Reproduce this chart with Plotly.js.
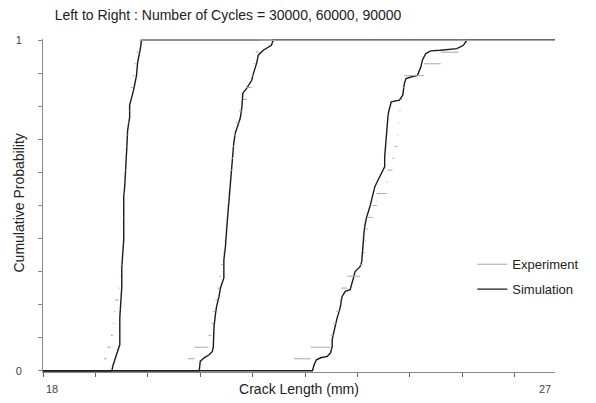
<!DOCTYPE html>
<html>
<head>
<meta charset="utf-8">
<script src="https://cdn.plot.ly/plotly-3.0.1.min.js"></script>
<style>html,body{margin:0;padding:0;background:#fff;}#chart{width:596px;height:403px;}</style>
</head>
<body>
<div id="chart"></div>
<script>
// ---- data ----
const chartTitle = 'Left to Right : Number of Cycles = 30000, 60000, 90000';
const xTitle = 'Crack Length (mm)';
const yTitle = 'Cumulative Probability';
const xEndLabels = ['18', '27'];
const xLimits = [18, 27];
const yTickVals = [0, 0.1, 0.2, 0.3, 0.4, 0.5, 0.6, 0.7, 0.8, 0.9, 1];
const yTickText = ['0', '', '', '', '', '', '', '', '', '', '1'];
const seriesNames = ['Experiment', 'Simulation'];
const cycles = [30000, 60000, 90000];

// experiment: sorted crack lengths (mm) and empirical probability levels
const expProb = [0.036, 0.071, 0.107, 0.143, 0.179, 0.214, 0.250, 0.286, 0.321, 0.357,
  0.393, 0.429, 0.464, 0.500, 0.536, 0.571, 0.607, 0.643, 0.679, 0.714,
  0.750, 0.786, 0.821, 0.857, 0.893, 0.929, 0.964, 1.000];
const exp30000 = [19.073, 19.125, 19.194, 19.229, 19.246, 19.263, 19.333, 19.350, 19.367, 19.385,
  19.393, 19.402, 19.410, 19.419, 19.428, 19.437, 19.445, 19.454, 19.462, 19.471,
  19.488, 19.506, 19.523, 19.540, 19.575, 19.610, 19.644, 19.696];
const exp60000 = [20.544, 20.665, 20.908, 20.960, 20.994, 21.029, 21.063, 21.098, 21.133, 21.167,
  21.185, 21.202, 21.219, 21.237, 21.254, 21.271, 21.288, 21.323, 21.340, 21.358,
  21.392, 21.444, 21.513, 21.583, 21.669, 21.704, 21.738, 21.808];
const exp90000 = [22.413, 22.708, 23.054, 23.106, 23.158, 23.210, 23.244, 23.348, 23.573, 23.625,
  23.660, 23.677, 23.712, 23.798, 23.867, 24.040, 24.058, 24.144, 24.179, 24.231,
  24.248, 24.265, 24.283, 24.317, 24.352, 24.698, 24.992, 25.304];

// simulation CDFs
const sim30000X = [18, 19.212, 19.229, 19.263, 19.298, 19.333, 19.350, 19.350, 19.367, 19.385, 19.385,
  19.402, 19.419, 19.419, 19.419, 19.437, 19.454, 19.471, 19.488, 19.523, 19.523, 19.592,
  19.644, 19.662, 19.713, 19.731, 27];
const sim30000P = [0, 0, 0.015, 0.033, 0.045, 0.063, 0.079, 0.160, 0.199, 0.254, 0.314,
  0.360, 0.396, 0.465, 0.526, 0.559, 0.601, 0.668, 0.728, 0.767, 0.804, 0.849,
  0.894, 0.931, 0.976, 1, 1];
const sim60000X = [18, 20.747, 20.764, 20.833, 20.920, 20.977, 20.994, 20.994, 21.006, 21.034, 21.051,
  21.093, 21.121, 21.179, 21.179, 21.207, 21.224, 21.237, 21.266, 21.294, 21.311, 21.323,
  21.340, 21.353, 21.380, 21.439, 21.467, 21.496, 21.513, 21.583, 21.669, 21.699, 21.756,
  21.785, 21.872, 22.015, 22.045, 27];
const sim60000P = [0, 0, 0.028, 0.039, 0.048, 0.058, 0.073, 0.104, 0.134, 0.175, 0.194,
  0.224, 0.251, 0.281, 0.335, 0.376, 0.406, 0.447, 0.508, 0.568, 0.607, 0.637,
  0.663, 0.689, 0.719, 0.749, 0.764, 0.798, 0.840, 0.855, 0.879, 0.900, 0.931,
  0.955, 0.970, 0.985, 1, 1];
const sim90000X = [18, 22.737, 22.765, 22.806, 22.881, 22.997, 23.054, 23.083, 23.083, 23.111, 23.140,
  23.170, 23.198, 23.227, 23.256, 23.313, 23.400, 23.429, 23.457, 23.486, 23.573, 23.603,
  23.613, 23.630, 23.642, 23.660, 23.689, 23.746, 23.786, 23.833, 23.890, 23.949, 24.006,
  24.006, 24.018, 24.035, 24.053, 24.063, 24.075, 24.122, 24.265, 24.323, 24.352, 24.381,
  24.468, 24.582, 24.641, 24.669, 24.728, 24.814, 24.988, 25.275, 25.390, 25.448, 27];
const sim90000P = [0, 0, 0.018, 0.033, 0.039, 0.043, 0.054, 0.073, 0.094, 0.119, 0.134,
  0.160, 0.175, 0.194, 0.224, 0.240, 0.245, 0.260, 0.281, 0.300, 0.315, 0.330,
  0.356, 0.387, 0.417, 0.441, 0.465, 0.496, 0.527, 0.557, 0.577, 0.597, 0.617,
  0.647, 0.678, 0.708, 0.738, 0.768, 0.783, 0.814, 0.819, 0.834, 0.869, 0.884,
  0.889, 0.894, 0.919, 0.940, 0.960, 0.968, 0.970, 0.975, 0.985, 1, 1];

// ---- build traces ----
const expSets = [exp30000, exp60000, exp90000];
const simSets = [[sim30000X, sim30000P], [sim60000X, sim60000P], [sim90000X, sim90000P]];

function expSegments(xs) {
  // horizontal steps of the empirical CDF: from each sorted length to the next one
  const sx = [], sy = [];
  for (let i = 0; i < xs.length; i++) {
    const x1 = (i + 1 < xs.length) ? xs[i + 1] : xLimits[1];
    sx.push(xs[i], x1, null);
    sy.push(expProb[i], expProb[i], null);
  }
  return [sx, sy];
}

const traces = [];
simSets.forEach((s, k) => {
  traces.push({
    x: s[0], y: s[1], type: 'scatter', mode: 'lines',
    name: seriesNames[1], legendgroup: 'sim', legendrank: 2,
    showlegend: k === 0,
    line: {color: '#1c1c1c', width: 1.4},
    hoverinfo: 'skip'
  });
});
expSets.forEach((xs, k) => {
  const seg = expSegments(xs);
  traces.push({
    x: seg[0], y: seg[1], type: 'scatter', mode: 'lines',
    name: seriesNames[0], legendgroup: 'exp', legendrank: 1,
    showlegend: k === 0, connectgaps: false,
    line: {color: '#a8a8a8', width: 1},
    hoverinfo: 'skip'
  });
});

const fam = '"Liberation Sans", Arial, sans-serif';
const font = {family: fam, size: 13, color: '#222'};

const layout = {
  width: 596, height: 403,
  margin: {l: 43, r: 33, t: 39, b: 31, pad: 0},
  paper_bgcolor: '#fff', plot_bgcolor: '#fff',
  font: font,
  showlegend: true,
  title: {
    text: chartTitle, font: {family: fam, size: 14, color: '#222'},
    x: 228 / 596, xanchor: 'center', xref: 'container',
    y: 1 - 15 / 403, yanchor: 'middle', yref: 'container'
  },
  xaxis: {
    range: xLimits, showgrid: false, zeroline: false,
    showline: true, linecolor: '#8a8a8a', linewidth: 1,
    ticks: 'outside', ticklen: 4, tickcolor: '#666', tickwidth: 1,
    tickmode: 'linear', tick0: 18, dtick: 0.9212,
    showticklabels: false,
    title: {text: xTitle, font: {family: fam, size: 14, color: '#222'}, standoff: 8}
  },
  yaxis: {
    range: [-0.004, 1.004], showgrid: false, zeroline: false,
    showline: true, linecolor: '#8a8a8a', linewidth: 1,
    ticks: 'outside', ticklen: 4, tickcolor: '#8a8a8a', tickwidth: 1,
    tickmode: 'array', tickvals: yTickVals, ticktext: yTickText,
    tickfont: {family: fam, size: 11, color: '#444'},
    ticklabelstandoff: 14
  },
  legend: {
    x: (479 - 43) / 520, xanchor: 'left', xref: 'paper',
    y: (371 - 249) / 331, yanchor: 'top', yref: 'paper',
    bgcolor: 'rgba(0,0,0,0)', borderwidth: 0,
    traceorder: 'grouped', tracegroupgap: 5,
    font: {family: fam, size: 13, color: '#222'},
    itemwidth: 30
  },
  annotations: [
    {text: xEndLabels[0], x: xLimits[0], y: 0, xref: 'x', yref: 'paper', xanchor: 'center', yanchor: 'middle',
     xshift: 9, yshift: -17, showarrow: false, font: {family: fam, size: 11, color: '#444'}},
    {text: xEndLabels[1], x: xLimits[1], y: 0, xref: 'x', yref: 'paper', xanchor: 'center', yanchor: 'middle',
     xshift: -10, yshift: -17, showarrow: false, font: {family: fam, size: 11, color: '#444'}},
    {text: yTitle, x: 0, y: 0.5, xref: 'paper', yref: 'paper', xanchor: 'center', yanchor: 'middle',
     xshift: -25, yshift: 2, textangle: -90, showarrow: false, font: {family: fam, size: 14, color: '#222'}}
  ]
};

Plotly.newPlot('chart', traces, layout, {staticPlot: true, displayModeBar: false});
</script>
</body>
</html>
